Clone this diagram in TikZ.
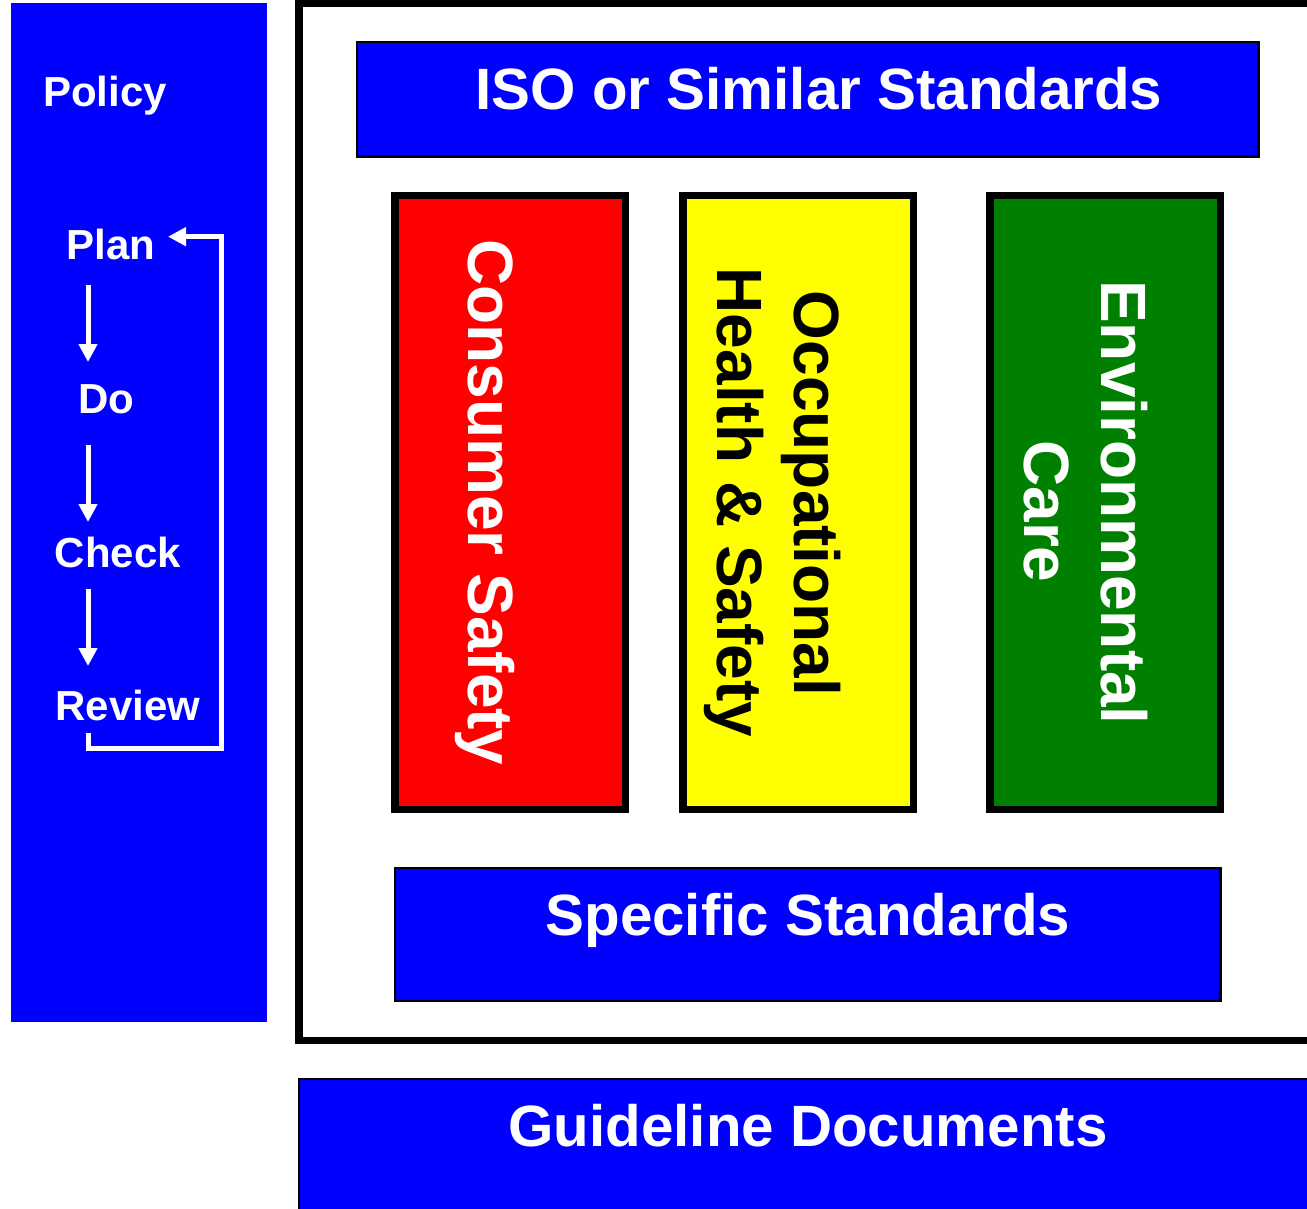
\documentclass[tikz,border=0pt]{standalone}
\usepackage{fontspec}
\setmainfont{Liberation Sans}
\usetikzlibrary{arrows.meta}
\definecolor{pblue}{RGB}{0,0,255}
\definecolor{pred}{RGB}{255,0,0}
\definecolor{pyellow}{RGB}{255,255,0}
\definecolor{pgreen}{RGB}{0,128,0}
\tikzset{
  panel/.style={fill=pblue, draw=none, inner sep=0, outer sep=0},
  bluebox/.style={fill=pblue, draw=black, line width=2.5pt, inner sep=0, outer sep=0},
  frame/.style={fill=white, draw=black, line width=7.5pt, inner sep=0, outer sep=0},
  pillar/.style={draw=black, line width=7.5pt, inner sep=0, outer sep=0,
    minimum width=230.3pt, minimum height=614.2pt},
  bigtext/.style={font=\fontsize{58.3}{70}\selectfont\bfseries, text=white, inner sep=0, anchor=base},
  vtext/.style={font=\fontsize{64}{77}\selectfont\bfseries, inner sep=0, rotate=-90, align=center},
  steptext/.style={font=\fontsize{42}{50}\selectfont\bfseries, text=white, inner sep=0, anchor=base},
  flow/.style={draw=white, line width=5pt, -{Triangle[width=18pt,length=18pt]}},
  loopback/.style={draw=white, line width=5pt, line join=miter, -{Triangle[width=18pt,length=18pt]}}
}
\begin{document}
\begin{tikzpicture}[x=1pt, y=-1pt]
\useasboundingbox (0,0) rectangle (1307,1209);
\fill[white] (0,0) rectangle (1307,1209);

% left PDCA panel
\node[panel, minimum width=256pt, minimum height=1019pt] (pdca) at (139,512.5) {};
\node[steptext] (policy) at (105,107) {Policy};
\node[steptext] (plan) at (111,259) {Plan};
\node[steptext] (do) at (106.5,413) {Do};
\node[steptext] (check) at (118,567) {Check};
\node[steptext] (review) at (128,720) {Review};

\coordinate (a1s) at (88,285);  \coordinate (a1e) at (88,362);
\coordinate (a2s) at (88,445);  \coordinate (a2e) at (88,522);
\coordinate (a3s) at (88,589);  \coordinate (a3e) at (88,666);
\draw[flow] (a1s) -- (a1e);
\draw[flow] (a2s) -- (a2e);
\draw[flow] (a3s) -- (a3e);

\coordinate (l0) at (88,733);
\coordinate (l1) at (88,748.7);
\coordinate (l2) at (221.7,748.7);
\coordinate (l3) at (221.7,236.7);
\coordinate (l4) at (168,236.7);
\draw[loopback] (l0) -- (l1) -- (l2) -- (l3) -- (l4);

% big frame
\node[frame, minimum width=1031pt, minimum height=1036.9pt] (frm) at (814.5,521.85) {};

% ISO box
\node[bluebox, minimum width=901.7pt, minimum height=114.7pt] (iso) at (807.85,99.35) {};
\node[bigtext] (isot) at (819,110) {ISO or Similar Standards};

% pillars
\node[pillar, fill=pred] (cons) at (510.2,502.6) {};
\node[pillar, fill=pyellow] (occ) at (798.2,502.6) {};
\node[pillar, fill=pgreen] (env) at (1105.25,502.6) {};
\node[vtext, text=white, anchor=base] (const) at (468.5,502.5) {Consumer Safety};
\node[vtext, text=black] (occt) at (773,502.5) {Occupational\rule{0.278em}{0pt}\\Health \& Safety};
\node[vtext, text=white] (envt) at (1086,502.5) {Environmental\\\rule{0.278em}{0pt}Care};

% specific standards
\node[bluebox, minimum width=825.7pt, minimum height=133pt] (spec) at (807.85,934.5) {};
\node[bigtext] (spect) at (808,935) {Specific Standards};

% guideline documents
\node[bluebox, minimum width=1031pt, minimum height=161pt] (guide) at (814.5,1159.5) {};
\node[bigtext] (guidet) at (808,1146) {Guideline Documents};
\end{tikzpicture}
\end{document}
